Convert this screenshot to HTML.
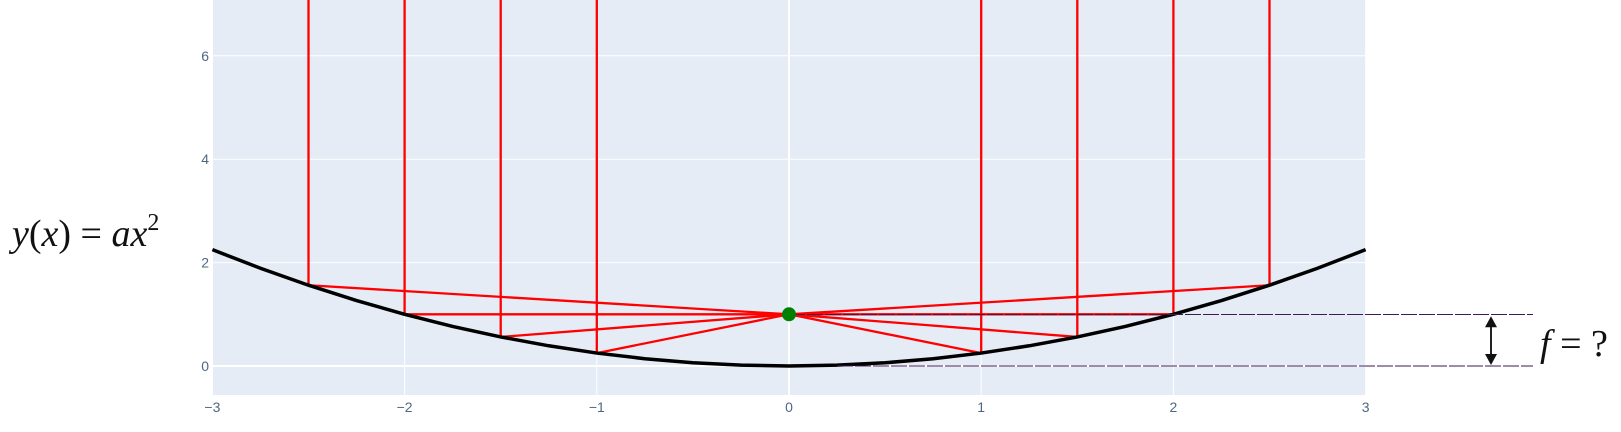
<!DOCTYPE html>
<html><head><meta charset="utf-8">
<style>
html,body{margin:0;padding:0;background:#fff;}
svg{display:block;}
.tick{font-family:"Liberation Sans",sans-serif;font-size:14px;fill:#506784;}
.math{font-family:"Liberation Serif",serif;font-size:38px;fill:#111;}
</style></head>
<body>
<svg id="chart" width="1621" height="432" viewBox="0 0 1621 432">
<rect x="213" y="0" width="1153" height="395" fill="#e5ecf6"/>
<g id="grid"></g>
<g id="marks"></g>
<g id="ticks"></g>
<text class="math" x="12" y="246"><tspan font-style="italic">y</tspan>(<tspan font-style="italic">x</tspan>) = <tspan font-style="italic">ax</tspan><tspan font-size="24" dy="-16">2</tspan></text>
<text class="math" x="1540" y="356"><tspan font-style="italic">f</tspan> = ?</text>
</svg>
<script>
const xTicks=[-3,-2,-1,0,1,2,3];
const yTicks=[0,2,4,6];
const curveX=[-3,-2.75,-2.5,-2.25,-2,-1.75,-1.5,-1.25,-1,-0.75,-0.5,-0.25,0,0.25,0.5,0.75,1,1.25,1.5,1.75,2,2.25,2.5,2.75,3];
const curveY=[2.25,1.89,1.5625,1.266,1,0.766,0.5625,0.391,0.25,0.141,0.0625,0.016,0,0.016,0.0625,0.141,0.25,0.391,0.5625,0.766,1,1.266,1.5625,1.89,2.25];
const rayX=[-2.5,-2,-1.5,-1,1,1.5,2,2.5];
const rayY=[1.5625,1,0.5625,0.25,0.25,0.5625,1,1.5625];
const focusX=0, focusY=1;
const ns="http://www.w3.org/2000/svg";
const X=v=>789+v*192.2, Y=v=>366-v*51.7;
function mk(tag,attrs,parent){const e=document.createElementNS(ns,tag);for(const k in attrs)e.setAttribute(k,attrs[k]);document.getElementById(parent).appendChild(e);return e;}
xTicks.forEach(t=>{
  const l=mk('line',{x1:X(t),x2:X(t),y1:0,y2:395,stroke:'#fff','stroke-width':t===0?2:1},'grid');
  
  
  const tx=mk('text',{x:X(t),y:412,'text-anchor':'middle',class:'tick'},'ticks');
  tx.textContent=t<0?'\u2212'+(-t):String(t);
  
  
});
yTicks.forEach(t=>{
  const l=mk('line',{x1:213,x2:1366,y1:Y(t),y2:Y(t),stroke:'#fff','stroke-width':t===0?2:1},'grid');
  
  
  const tx=mk('text',{x:209,y:Y(t)+5,'text-anchor':'end',class:'tick'},'ticks');
  tx.textContent=String(t);
  
  
});
rayX.forEach((x,i)=>{
  const p=mk('polyline',{points:`${X(x)},0 ${X(x)},${Y(rayY[i])} ${X(focusX)},${Y(focusY)}`,fill:'none',stroke:'#ff0000','stroke-width':2.3,'stroke-linejoin':'round'},'marks');
  
  
});
const c=mk('polyline',{points:curveX.map((x,i)=>X(x)+','+Y(curveY[i])).join(' '),fill:'none',stroke:'#000','stroke-width':3.5},'marks');


const d1=mk('line',{x1:X(focusX),x2:1533,y1:Y(focusY),y2:Y(focusY),stroke:'#3d1a50','stroke-width':1,'stroke-dasharray':'16 2','shape-rendering':'crispEdges'},'marks');


const d2=mk('line',{x1:X(0.25),x2:1533,y1:Y(0),y2:Y(0),stroke:'#3d1a50','stroke-width':1,'stroke-dasharray':'16 2','shape-rendering':'crispEdges'},'marks');


const dot=mk('circle',{cx:X(focusX),cy:Y(focusY),r:7,fill:'#008000'},'marks');


const ax=1491;
const a=mk('line',{x1:ax,x2:ax,y1:Y(focusY)+10,y2:Y(0)-10,stroke:'#222','stroke-width':2},'marks');


const h1=mk('polygon',{points:`${ax},${Y(focusY)+2} ${ax-6},${Y(focusY)+13} ${ax+6},${Y(focusY)+13}`,fill:'#111'},'marks');


const h2=mk('polygon',{points:`${ax},${Y(0)-1} ${ax-6},${Y(0)-12} ${ax+6},${Y(0)-12}`,fill:'#111'},'marks');


</script>
</body></html>
